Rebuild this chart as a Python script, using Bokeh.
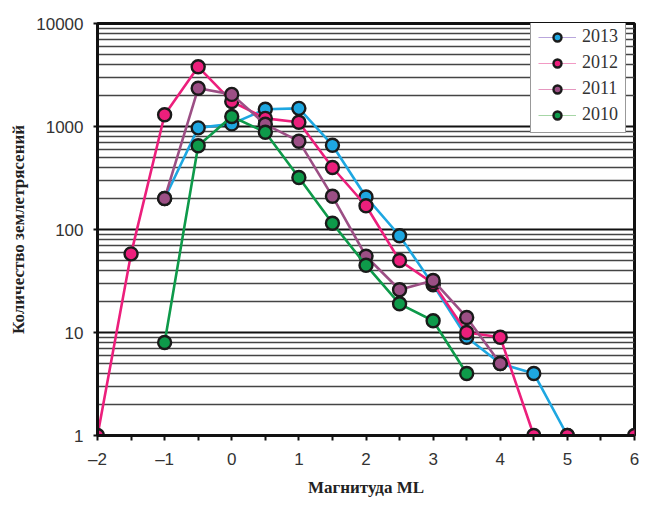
from bokeh.plotting import figure
from bokeh.models import (FixedTicker, Legend, LegendItem, ColumnDataSource, Range1d,
                          CDSView, IndexFilter)
from bokeh.embed import file_html
from bokeh.resources import INLINE

# ---- data ----
mag_2013 = [-1, -0.5, 0, 0.5, 1, 1.5, 2, 2.5, 3, 3.5, 4, 4.5, 5]
cnt_2013 = [200, 970, 1060, 1470, 1500, 658, 207, 87, 29, 9, 5, 4, 1]

mag_2012 = [-2, -1.5, -1, -0.5, 0, 0.5, 1, 1.5, 2, 2.5, 3, 3.5, 4, 4.5, 5, 6]
cnt_2012 = [1, 58, 1300, 3800, 1750, 1200, 1100, 400, 170, 50, 30, 10, 9, 1, 1, 1]

mag_2011 = [-1, -0.5, 0, 0.5, 1, 1.5, 2, 2.5, 3, 3.5, 4]
cnt_2011 = [200, 2350, 2050, 1050, 720, 210, 55, 26, 32, 14, 5]

mag_2010 = [-1, -0.5, 0, 0.5, 1, 1.5, 2, 2.5, 3, 3.5]
cnt_2010 = [8, 650, 1250, 880, 320, 115, 45, 19, 13, 4]

years = ["2013", "2012", "2011", "2010"]
x_ticks = [-2, -1, 0, 1, 2, 3, 4, 5, 6]
x_tick_labels = ["–2", "–1", "0", "1", "2", "3", "4", "5", "6"]
y_ticks = [1, 10, 100, 1000, 10000]
y_tick_labels = ["1", "10", "100", "1000", "10000"]

series = [
    (mag_2013, cnt_2013, "#1ea7e1", "#b9a6dc"),
    (mag_2012, cnt_2012, "#ec1f7c", "#f29ac4"),
    (mag_2011, cnt_2011, "#9c4f85", "#e597bf"),
    (mag_2010, cnt_2010, "#0e9a4a", "#a6d6a6"),
]

p = figure(width=640, height=499, y_axis_type="log",
           x_range=Range1d(-2, 6), y_range=Range1d(1, 10000),
           output_backend="svg", toolbar_location=None,
           min_border_left=97, min_border_right=6, min_border_top=23, min_border_bottom=59)

p.outline_line_color = "#111111"
p.outline_line_width = 3
p.background_fill_color = "white"
p.border_fill_color = "white"

# axes
minor_y = [m * 10 ** e for e in range(4) for m in range(2, 10)]
p.yaxis.ticker = FixedTicker(ticks=y_ticks, minor_ticks=minor_y)
p.yaxis.major_label_overrides = {t: l for t, l in zip(y_ticks, y_tick_labels)}
p.xaxis.ticker = FixedTicker(ticks=x_ticks, minor_ticks=[t + 0.5 for t in x_ticks[:-1]])
p.xaxis.major_label_overrides = {t: l for t, l in zip(x_ticks, x_tick_labels)}

for ax in (p.xaxis[0], p.yaxis[0]):
    ax.axis_line_width = 3
    ax.axis_line_color = "#111111"
    ax.major_tick_line_color = "#111111"
    ax.major_tick_line_width = 2
    ax.minor_tick_line_color = "#111111"
    ax.minor_tick_line_width = 2
    ax.major_tick_in = 0
    ax.minor_tick_in = 0
    ax.major_label_text_font = "Liberation Sans"
    ax.major_label_text_font_size = "17px"
    ax.major_label_text_color = "#333333"
    ax.axis_label_text_font = "Liberation Serif"
    ax.axis_label_text_font_style = "bold"
    ax.axis_label_text_font_size = "17px"
    ax.axis_label_text_color = "#222222"

p.xaxis.major_tick_out = 5
p.xaxis.minor_tick_out = 5
p.xaxis.major_label_standoff = 9
p.xaxis.axis_label = "Магнитуда ML"
p.xaxis.axis_label_standoff = 6

p.yaxis.major_tick_out = 4
p.yaxis.minor_tick_out = 0
p.yaxis.major_label_standoff = 10
p.yaxis.axis_label = "Количество землетрясений"
p.yaxis.axis_label_standoff = 5

# grid
p.xgrid.visible = False
p.ygrid.grid_line_color = "#111111"
p.ygrid.grid_line_width = 2.2
p.ygrid.minor_grid_line_color = "#444444"
p.ygrid.minor_grid_line_width = 1.4

items = []
for (xs, ys, col, lcol), yr in zip(series, years):
    src = ColumnDataSource(dict(x=xs, y=ys))
    p.line("x", "y", source=src, line_color=col, line_width=2.6)
    sc = p.scatter("x", "y", source=src, size=13, fill_color=col,
                   line_color="#1a1a1a", line_width=2.4)
    # legend-only thin line: a one-point view draws nothing in the plot
    thin = p.line("x", "y", source=src, view=CDSView(filter=IndexFilter([0])),
                  line_color=lcol, line_width=1.2)
    items.append(LegendItem(label=yr, renderers=[thin, sc], index=0))

legend = Legend(items=items, location=(433, 302))
legend.label_text_font = "Liberation Serif"
legend.label_text_font_size = "18px"
legend.label_text_color = "#333333"
legend.border_line_color = "#333333"
legend.border_line_width = 1.5
legend.background_fill_alpha = 1
legend.glyph_width = 38
legend.glyph_height = 20
legend.label_height = 20
legend.spacing = 5
legend.padding = 7
legend.label_standoff = 6
legend.margin = 0
p.add_layout(legend, "center")

with open("out.html", "w") as f:
    f.write(file_html(p, INLINE))
